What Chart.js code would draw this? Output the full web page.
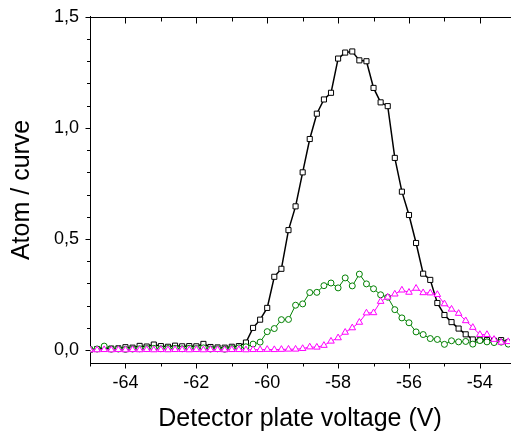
<!DOCTYPE html>
<html>
<head>
<meta charset="utf-8">
<script src="https://cdn.jsdelivr.net/npm/chart.js@4/dist/chart.umd.min.js"></script>
<style>
  html, body { margin: 0; padding: 0; background: #fff; }
  #wrap { width: 515px; height: 437px; }
</style>
</head>
<body>
<div id="wrap"><canvas id="chart" width="515" height="437"></canvas></div>
<script>
// Detector plate voltage (V), one point every 0.2 V
const voltage = [
  -65.0, -64.8, -64.6, -64.4, -64.2, -64.0, -63.8, -63.6, -63.4, -63.2,
  -63.0, -62.8, -62.6, -62.4, -62.2, -62.0, -61.8, -61.6, -61.4, -61.2,
  -61.0, -60.8, -60.6, -60.4, -60.2, -60.0, -59.8, -59.6, -59.4, -59.2,
  -59.0, -58.8, -58.6, -58.4, -58.2, -58.0, -57.8, -57.6, -57.4, -57.2,
  -57.0, -56.8, -56.6, -56.4, -56.2, -56.0, -55.8, -55.6, -55.4, -55.2,
  -55.0, -54.8, -54.6, -54.4, -54.2, -54.0, -53.8, -53.6, -53.4, -53.2
];

// black squares
const serieNegra = [
  0.002, 0.005, 0.008, 0.007, 0.008, 0.013, 0.011, 0.019, 0.016, 0.025,
  0.018, 0.015, 0.020, 0.017, 0.018, 0.017, 0.028, 0.014, 0.012, 0.011,
  0.015, 0.018, 0.034, 0.100, 0.137, 0.190, 0.330, 0.366, 0.540, 0.647,
  0.800, 0.950, 1.064, 1.128, 1.158, 1.312, 1.339, 1.344, 1.304, 1.300,
  1.180, 1.115, 1.098, 0.865, 0.713, 0.608, 0.482, 0.344, 0.316, 0.212,
  0.158, 0.126, 0.097, 0.071, 0.048, 0.045, 0.045, 0.042, 0.045, 0.035
];

// green circles
const serieVerde = [
  0.003, 0.005, 0.018, 0.004, 0.005, 0.003, 0.005, 0.006, 0.007, 0.008,
  0.006, 0.007, 0.008, 0.006, 0.008, 0.007, 0.010, 0.005, 0.006, 0.004,
  0.007, 0.010, 0.015, 0.027, 0.036, 0.083, 0.097, 0.137, 0.138, 0.202,
  0.208, 0.259, 0.260, 0.290, 0.302, 0.280, 0.325, 0.289, 0.342, 0.298,
  0.276, 0.249, 0.238, 0.182, 0.145, 0.123, 0.082, 0.070, 0.052, 0.048,
  0.026, 0.042, 0.037, 0.039, 0.027, 0.043, 0.037, 0.034, 0.036, 0.027
];

// magenta triangles
const serieMagenta = [
  0.001, 0.001, 0.002, 0.001, 0.002, 0.001, 0.002, 0.001, 0.002, 0.001,
  0.002, 0.001, 0.002, 0.002, 0.001, 0.002, 0.001, 0.002, 0.002, 0.001,
  0.002, 0.002, 0.001, 0.002, 0.002, 0.003, 0.002, 0.003, 0.004, 0.004,
  0.007, 0.014, 0.013, 0.021, 0.040, 0.055, 0.080, 0.100, 0.125, 0.167,
  0.168, 0.219, 0.238, 0.252, 0.270, 0.260, 0.278, 0.258, 0.257, 0.250,
  0.208, 0.184, 0.165, 0.132, 0.102, 0.070, 0.070, 0.048, 0.035, 0.038
];

const xMin = -65, xMax = -53.15;
const yMin = -0.058, yMax = 1.5;

function puntos(valores) {
  return voltage.map((v, i) => ({ x: v, y: valores[i] }));
}

function esMayorY(v) {
  return Math.abs(v * 2 - Math.round(v * 2)) < 1e-6;
}
function esMayorX(v) {
  return Math.abs(v / 2 - Math.round(v / 2)) < 1e-6;
}

// ticks: outward on the bottom/left axes, inward on the top frame line
const marcoTicks = {
  id: 'marcoTicks',
  afterDraw(chart) {
    const { ctx, chartArea: a, scales: { x, y } } = chart;
    ctx.save();
    ctx.strokeStyle = '#000';
    ctx.lineWidth = 1;
    ctx.beginPath();
    const top = Math.round(a.top) + 0.5;
    const bottom = Math.round(a.bottom) + 0.5;
    const left = Math.round(a.left) + 0.5;
    ctx.moveTo(left, top);
    ctx.lineTo(a.right + 1, top);
    x.ticks.forEach(t => {
      const px = Math.round(x.getPixelForValue(t.value)) + 0.5;
      const len = esMayorX(t.value) ? 5 : 3;
      ctx.moveTo(px, bottom);
      ctx.lineTo(px, bottom + len);
      ctx.moveTo(px, top);
      ctx.lineTo(px, top + len + 1);
    });
    y.ticks.forEach(t => {
      const py = Math.round(y.getPixelForValue(t.value)) + 0.5;
      const len = esMayorY(t.value) ? 5 : 3.5;
      ctx.moveTo(left, py);
      ctx.lineTo(left - len, py);
    });
    ctx.stroke();
    ctx.restore();
  }
};

const ctx = document.getElementById('chart').getContext('2d');
new Chart(ctx, {
  type: 'line',
  data: {
    datasets: [
      {
        label: 'magenta',
        data: puntos(serieMagenta),
        borderColor: '#ff00ff',
        backgroundColor: '#ffffff',
        borderWidth: 1,
        pointStyle: 'triangle',
        pointRadius: 3.8,
        pointBorderWidth: 1,
        pointBorderColor: '#ff00ff',
        pointBackgroundColor: '#ffffff',
        tension: 0
      },
      {
        label: 'verde',
        data: puntos(serieVerde),
        borderColor: '#008000',
        backgroundColor: '#ffffff',
        borderWidth: 1,
        pointStyle: 'circle',
        pointRadius: 3,
        pointBorderWidth: 1,
        pointBorderColor: '#008000',
        pointBackgroundColor: '#ffffff',
        tension: 0
      },
      {
        label: 'negra',
        data: puntos(serieNegra),
        borderColor: '#000000',
        backgroundColor: '#ffffff',
        borderWidth: 1.5,
        pointStyle: 'rect',
        pointRadius: 3.6,
        pointBorderWidth: 1,
        pointBorderColor: '#000000',
        pointBackgroundColor: '#ffffff',
        tension: 0
      }
    ]
  },
  options: {
    responsive: false,
    animation: false,
    layout: { padding: { top: 15, right: 0, bottom: 0, left: 0 } },
    plugins: {
      legend: { display: false },
      tooltip: { enabled: false }
    },
    scales: {
      x: {
        type: 'linear',
        min: xMin,
        max: xMax,
        afterFit: s => { s.height = 74; },
        border: { display: true, color: '#000', width: 1 },
        grid: { display: false, drawTicks: true, tickLength: 5 },
        ticks: {
          stepSize: 1,
          autoSkip: false,
          maxRotation: 0,
          includeBounds: false,
          padding: 4,
          color: '#000',
          font: { family: 'Liberation Sans', size: 18 },
          callback: v => esMayorX(v) ? String(Math.round(v)) : ''
        },
        title: {
          display: true,
          text: 'Detector plate voltage (V)',
          color: '#000',
          font: { family: 'Liberation Sans', size: 25 },
          padding: { top: 0, bottom: 3 }
        }
      },
      y: {
        type: 'linear',
        min: yMin,
        max: yMax,
        afterFit: s => { s.width = 90; },
        border: { display: true, color: '#000', width: 1 },
        grid: { display: false, drawTicks: true, tickLength: 5 },
        ticks: {
          stepSize: 0.1,
          autoSkip: false,
          includeBounds: false,
          padding: 6,
          color: '#000',
          font: { family: 'Liberation Sans', size: 18 },
          callback: v => esMayorY(v) ? v.toFixed(1).replace('.', ',') : ''
        },
        title: {
          display: true,
          text: 'Atom / curve',
          color: '#000',
          font: { family: 'Liberation Sans', size: 25 },
          padding: { top: 7, bottom: 0 }
        }
      }
    }
  },
  plugins: [marcoTicks]
});
</script>
</body>
</html>
